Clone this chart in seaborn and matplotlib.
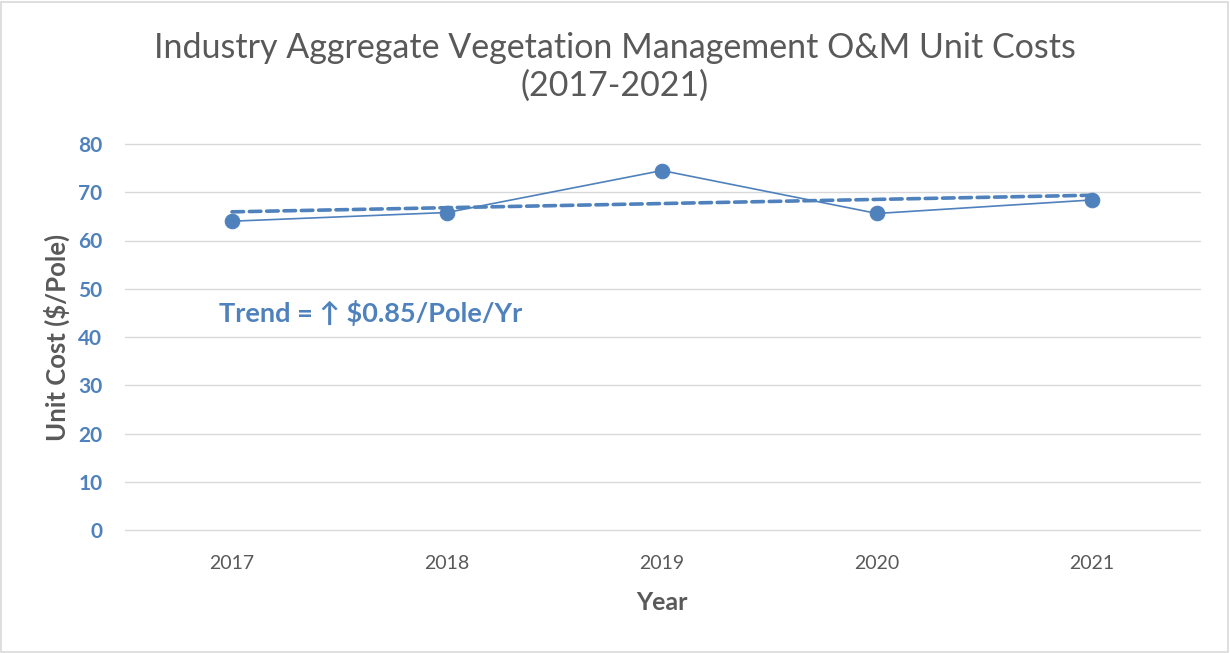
import numpy as np
import pandas as pd
import seaborn as sns
import matplotlib.pyplot as plt
from matplotlib.patches import Rectangle

# Data
years = [2017, 2018, 2019, 2020, 2021]
unit_cost = [64.0, 65.8, 74.5, 65.6, 68.4]
y_ticks = [0, 10, 20, 30, 40, 50, 60, 70, 80]

df = pd.DataFrame({"Year": years, "Unit Cost": unit_cost})

blue = "#4f81bd"
gray = "#595959"

sns.set_style("white")
plt.rcParams['font.family'] = ['Lato', 'DejaVu Sans']

fig = plt.figure(figsize=(12.3, 6.53), dpi=100)
ax = fig.add_axes([124.5 / 1230, 1 - 530 / 653, 1075 / 1230, 386 / 653])

# Linear trend (least squares fit done by seaborn)
sns.regplot(x="Year", y="Unit Cost", data=df, scatter=False, ci=None, ax=ax,
            line_kws=dict(color=blue, lw=2.6, linestyle=(0, (3.2, 1.6)),
                          dash_capstyle='round'))

# Actual values
sns.lineplot(x="Year", y="Unit Cost", data=df, ax=ax, color=blue, lw=1.2,
             marker='o', markersize=10.5, markeredgecolor=blue)

ax.set_xlim(2016.5, 2021.5)
ax.set_ylim(0, 80)
ax.set_xticks(years)
ax.set_xticklabels([str(y) for y in years], color=gray, fontsize=14)
ax.set_yticks(y_ticks)
ax.set_yticklabels([str(v) for v in y_ticks], color=blue, fontsize=15, fontweight='bold')
ax.tick_params(axis='both', length=0)
ax.tick_params(axis='y', pad=16)
ax.tick_params(axis='x', pad=18)
ax.grid(axis='y', color='#d9d9d9', lw=1)
for gl in ax.get_ygridlines():
    gl.set_clip_on(False)
ax.set_axisbelow(True)
for s in ax.spines.values():
    s.set_visible(False)

ax.set_xlabel("Year", color=gray, fontsize=18, fontweight='bold', labelpad=14)
ax.set_ylabel("Unit Cost ($/Pole)", color=gray, fontsize=18.5, fontweight='bold', labelpad=6)

fig.text(0.5, 1 - 67 / 653, "Industry Aggregate Vegetation Management O&M Unit Costs\n(2017-2021)",
         ha='center', va='center', color=gray, fontsize=24.5, linespacing=1.2)

ax.text(2016.94, 45.0, "Trend = \u2191 $0.85/Pole/Yr", color=blue, fontsize=19.5,
        fontweight='bold', ha='left', va='center')

# chart border
fig.patches.append(Rectangle((0.001, 0.002), 0.997, 0.995, transform=fig.transFigure,
                             fill=False, edgecolor='#d9d9d9', lw=1.2))

plt.savefig("out.png", dpi=100)
